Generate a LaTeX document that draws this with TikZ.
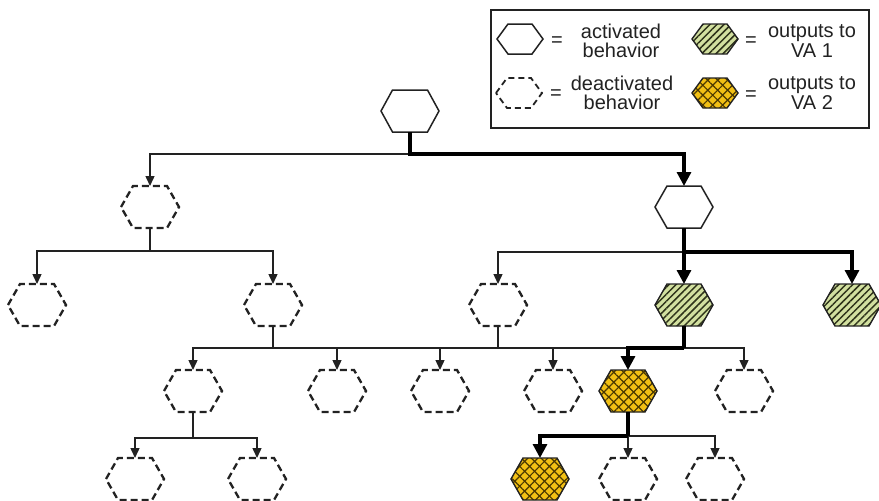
\documentclass[tikz,border=0pt]{standalone}
\usepackage{fontspec}
\setmainfont{Liberation Sans}
\usetikzlibrary{arrows.meta,patterns.meta}
\definecolor{vagreen}{HTML}{D2E0A0}
\definecolor{vastripe}{HTML}{2E331A}
\definecolor{vagold}{HTML}{F2C014}
\definecolor{vahatch}{HTML}{4A3800}
\definecolor{ink}{HTML}{222222}
\tikzset{
  hexbox/.style={shape=rectangle,draw=none,inner sep=0pt,outer sep=0pt,minimum width=58pt,minimum height=42pt},
  legbox/.style={minimum width=46pt,minimum height=30pt},
  act/.style={draw=ink,line width=1.5pt,fill=white,line join=miter},
  deact/.style={draw=ink,line width=2.3pt,dash pattern=on 7pt off 4pt},
  vaone/.style={draw=ink,line width=1.4pt,preaction={fill=vagreen},pattern={Lines[angle=45,distance=5pt,line width=1.5pt]},pattern color=vastripe},
  vatwo/.style={draw=ink,line width=1.4pt,preaction={fill=vagold},preaction={pattern={Lines[angle=45,distance=7pt,line width=1.2pt]},pattern color=vahatch},pattern={Lines[angle=-45,distance=7pt,line width=1.2pt]},pattern color=vahatch},
  thinconn/.style={draw=ink,line width=1.4pt},
  thickconn/.style={draw=black,line width=3.2pt},
  thinarrow/.style={thinconn,-{Triangle[width=9pt,length=10pt]}},
  thickarrow/.style={thickconn,-{Triangle[width=14pt,length=14pt]}},
  legtext/.style={align=center,text=ink,font=\fontsize{20}{19.5}\selectfont,inner sep=0pt}
}
\newcommand{\hexnode}[6]{%
  \node[hexbox,#5] (#1) at (#2,#3) {};
  \draw[#4] (#1.west) -- ([xshift=-#6]#1.north) -- ([xshift=#6]#1.north) -- (#1.east) -- ([xshift=#6]#1.south) -- ([xshift=-#6]#1.south) -- cycle;}
\begin{document}
\begin{tikzpicture}[x=1pt,y=-1pt]
\useasboundingbox (0,0) rectangle (879,501);
% legend
\node[draw=ink,line width=1.5pt,minimum width=378pt,minimum height=118pt,inner sep=0pt] (legend) at (680,69) {};
\hexnode{lgact}{520}{39}{act}{legbox}{12pt}
\hexnode{lgdeact}{519}{93}{deact,line width=1.8pt,dash pattern=on 6pt off 4pt}{legbox}{12pt}
\hexnode{lgone}{715}{39}{vaone}{legbox}{12pt}
\hexnode{lgtwo}{715}{93}{vatwo}{legbox}{12pt}
\node[legtext] (eqa) at (557,42) {=};
\node[legtext] (eqb) at (556,95) {=};
\node[legtext] (eqc) at (751,42) {=};
\node[legtext] (eqd) at (751,96) {=};
\node[legtext] (ta) at (621,41) {activated\\behavior};
\node[legtext] (tb) at (622,93) {deactivated\\behavior};
\node[legtext] (tc) at (812,41) {outputs to\\VA 1};
\node[legtext] (td) at (812,93) {outputs to\\VA 2};
% tree nodes
\hexnode{root}{410}{111}{act}{}{17.5pt}
\hexnode{la}{150}{207}{deact}{}{17pt}
\hexnode{lb}{684}{207}{act}{}{17pt}
\hexnode{ma}{37}{305}{deact}{}{17pt}
\hexnode{mb}{273}{305}{deact}{}{17pt}
\hexnode{mc}{498}{305}{deact}{}{17pt}
\hexnode{md}{684}{305}{vaone}{}{17pt}
\hexnode{me}{852}{305}{vaone}{}{17pt}
\hexnode{na}{193}{391}{deact}{}{17pt}
\hexnode{nb}{337}{391}{deact}{}{17pt}
\hexnode{nc}{440}{391}{deact}{}{17pt}
\hexnode{nd}{553}{391}{deact}{}{17pt}
\hexnode{ne}{628}{391}{vatwo}{}{17pt}
\hexnode{nf}{744}{391}{deact}{}{17pt}
\hexnode{oa}{135}{479}{deact}{}{17pt}
\hexnode{ob}{257}{479}{deact}{}{17pt}
\hexnode{oc}{540}{479}{vatwo}{}{17pt}
\hexnode{od}{628}{479}{deact}{}{17pt}
\hexnode{oe}{715}{479}{deact}{}{17pt}
% junctions
\coordinate (j0) at (410,154);
\coordinate (j1) at (150,251);
\coordinate (j2) at (684,252);
\coordinate (j3) at (273,348);
\coordinate (j4) at (498,348);
\coordinate (j5) at (684,348);
\coordinate (j6) at (193,438);
\coordinate (j7) at (628,436);
% thin connectors
\draw[thinarrow] (j0) -| (la.north);
\draw[thinconn] (la.south) -- (j1);
\draw[thinarrow] (j1) -| (ma.north);
\draw[thinarrow] (j1) -| (mb.north);
\draw[thinarrow] (j2) -| (mc.north);
\draw[thinconn] (mb.south) -- (j3);
\draw[thinconn] (mc.south) -- (j4);
\draw[thinconn] (j3) -- (j4) -- (j5);
\draw[thinarrow] (j3) -| (na.north);
\draw[thinarrow] (j3) -| (nb.north);
\draw[thinarrow] (j4) -| (nc.north);
\draw[thinarrow] (j4) -| (nd.north);
\draw[thinarrow] (j5) -| (nf.north);
\draw[thinconn] (na.south) -- (j6);
\draw[thinarrow] (j6) -| (oa.north);
\draw[thinarrow] (j6) -| (ob.north);
\draw[thinarrow] (j7) -- (od.north);
\draw[thinarrow] (j7) -| (oe.north);
% thick (active) connectors
\draw[thickarrow] (root.south) -- (j0) -| (lb.north);
\draw[thickconn] (lb.south) -- (j2);
\draw[thickarrow] (j2) -- (md.north);
\draw[thickarrow] (j2) -| (me.north);
\draw[thickconn] (md.south) -- (j5);
\draw[thickarrow] (j5) -| (ne.north);
\draw[thickconn] (ne.south) -- (j7);
\draw[thickarrow] (j7) -| (oc.north);
\end{tikzpicture}
\end{document}
